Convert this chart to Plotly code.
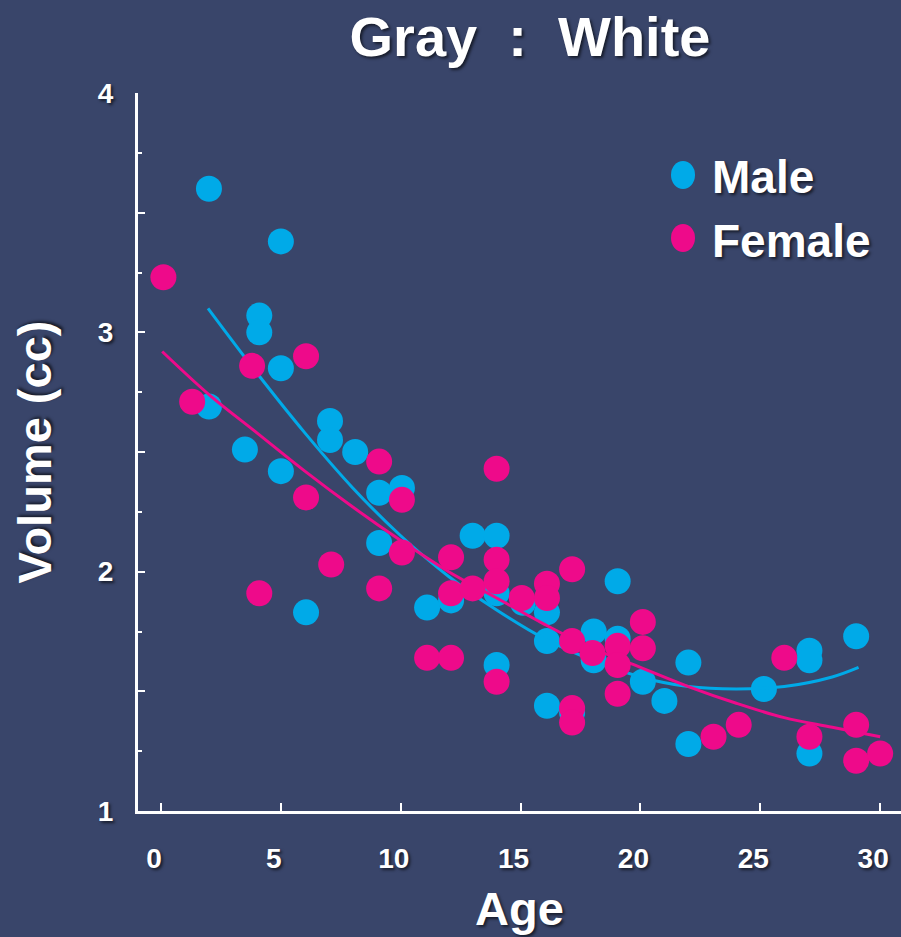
import plotly.graph_objects as go

# Gray:White volume ratio by age
male_age = [2.0, 5.0, 4.1, 4.1, 5.0, 2.0, 3.5, 5.0, 7.05, 7.05, 8.1, 9.1, 10.05, 9.1,
            6.05, 11.1, 12.1, 13.0, 14.0, 14.0, 14.0, 15.1, 16.1, 16.1, 16.1, 17.15,
            18.05, 18.05, 19.05, 19.05, 20.1, 21.0, 22.0, 22.0, 25.15, 27.05, 27.05,
            27.05, 29.0]
male_vol = [3.60, 3.38, 3.07, 3.00, 2.85, 2.69, 2.51, 2.42, 2.63, 2.55, 2.50, 2.33, 2.35, 2.12,
            1.83, 1.85, 1.88, 2.15, 2.15, 1.91, 1.61, 1.87, 1.83, 1.71, 1.44, 1.41,
            1.75, 1.63, 1.96, 1.72, 1.54, 1.46, 1.62, 1.28, 1.51, 1.67, 1.63,
            1.24, 1.73]

female_age = [0.1, 1.3, 3.8, 6.05, 6.05, 4.1, 7.1, 9.1, 10.05, 9.1, 10.05, 11.1, 12.1, 12.1,
              12.1, 13.0, 14.0, 14.0, 14.0, 14.0, 15.05, 16.1, 16.1, 17.15, 17.15, 17.15,
              17.15, 18.0, 19.05, 19.05, 19.05, 20.1, 20.1, 23.05, 24.1, 26.0, 27.05, 29.0,
              29.0, 30.0]
female_vol = [3.23, 2.71, 2.86, 2.90, 2.31, 1.91, 2.03, 2.46, 2.30, 1.93, 2.08, 1.64, 1.64, 2.06,
              1.91, 1.93, 2.43, 2.05, 1.96, 1.54, 1.89, 1.95, 1.89, 2.01, 1.71, 1.43,
              1.37, 1.66, 1.69, 1.61, 1.49, 1.79, 1.68, 1.31, 1.36, 1.64, 1.31, 1.36,
              1.21, 1.24]

# fitted trend curves
male_fit_age = [1.96, 4, 6, 8, 10, 12, 14, 16, 18, 20, 22, 24, 26, 28, 29.1]
male_fit_vol = [3.10, 2.83, 2.58, 2.35, 2.15, 1.98, 1.84, 1.72, 1.63, 1.56, 1.52, 1.51, 1.52, 1.56, 1.60]

female_fit_age = [0.05, 2, 4, 6, 8, 10, 12, 14, 16, 18, 20, 22, 24, 26, 28, 30]
female_fit_vol = [2.92, 2.74, 2.58, 2.42, 2.27, 2.13, 2.00, 1.89, 1.78, 1.68, 1.60, 1.52, 1.45, 1.39, 1.35, 1.31]

x_ticks = [0, 5, 10, 15, 20, 25, 30]
y_ticks = [1, 1.5, 2, 2.5, 3, 3.5, 4]
y_ticktext = ["1", "", "2", "", "3", "", "4"]

BG = "#39456A"
BLUE = "#00AAE8"
PINK = "#EE0A8A"
FONT = "Liberation Sans, Arial, sans-serif"
SHADOW = "2px 2px 3px rgba(0,0,0,0.6)"

fig = go.Figure()
fig.add_trace(go.Scatter(x=male_age, y=male_vol, mode="markers", name="Male",
                         marker=dict(color=BLUE, size=26, line=dict(width=0))))
fig.add_trace(go.Scatter(x=male_fit_age, y=male_fit_vol, mode="lines", showlegend=False,
                         line=dict(color=BLUE, width=3, shape="spline")))
fig.add_trace(go.Scatter(x=female_fit_age, y=female_fit_vol, mode="lines", showlegend=False,
                         line=dict(color=PINK, width=3, shape="spline")))
fig.add_trace(go.Scatter(x=female_age, y=female_vol, mode="markers", name="Female",
                         marker=dict(color=PINK, size=26, line=dict(width=0))))

axis_font = dict(family=FONT, size=28, color="white", weight=700, shadow=SHADOW)
title_font = dict(family=FONT, size=47, color="white", weight=700, shadow=SHADOW)

fig.update_layout(
    width=901, height=937,
    margin=dict(l=138, r=0, t=93, b=126),
    paper_bgcolor=BG, plot_bgcolor=BG,
    showlegend=False,
    title=dict(text="Gray  :  White", x=530 / 901, xanchor="center",
               y=1 - 36 / 937, yanchor="middle", xref="container", yref="container",
               font=dict(family=FONT, size=56, color="white", weight=700, shadow=SHADOW)),
    xaxis=dict(range=[-0.96, 30.87], showgrid=False, zeroline=False,
               showline=True, linecolor="white", linewidth=3,
               tickvals=x_ticks, ticks="inside", ticklen=8, tickwidth=2, tickcolor="white",
               tickfont=axis_font, ticklabelstandoff=20, ticklabelshift=-7,
               title=dict(text="Age", font=title_font, standoff=20)),
    yaxis=dict(range=[1, 4], showgrid=False, zeroline=False,
               showline=True, linecolor="white", linewidth=3,
               tickvals=y_ticks, ticktext=y_ticktext,
               ticks="inside", ticklen=7, tickwidth=2, tickcolor="white",
               minor=dict(dtick=0.25, ticks="inside", ticklen=4, tickwidth=2, tickcolor="white"),
               tickfont=axis_font, ticklabelstandoff=16,
               title=dict(text="Volume (cc)", font=title_font, standoff=32)),
)

# legend drawn as dots and labels inside the plot area
legend_items = [("Male", BLUE, 175, 177), ("Female", PINK, 238, 241)]
for label, color, dot_y, text_y in legend_items:
    fig.add_shape(type="circle", xref="paper", yref="paper",
                  xsizemode="pixel", ysizemode="pixel",
                  xanchor=(683 - 138) / 763, yanchor=(811 - dot_y) / 718,
                  x0=-12, x1=12, y0=-14, y1=14,
                  fillcolor=color, line=dict(width=0))
    fig.add_annotation(text=label, xref="paper", yref="paper",
                       x=(710 - 138) / 763, y=(811 - text_y) / 718,
                       xanchor="left", yanchor="middle", showarrow=False,
                       font=dict(family=FONT, size=46, color="white", weight=700, shadow=SHADOW))

fig.write_html("out.html")
